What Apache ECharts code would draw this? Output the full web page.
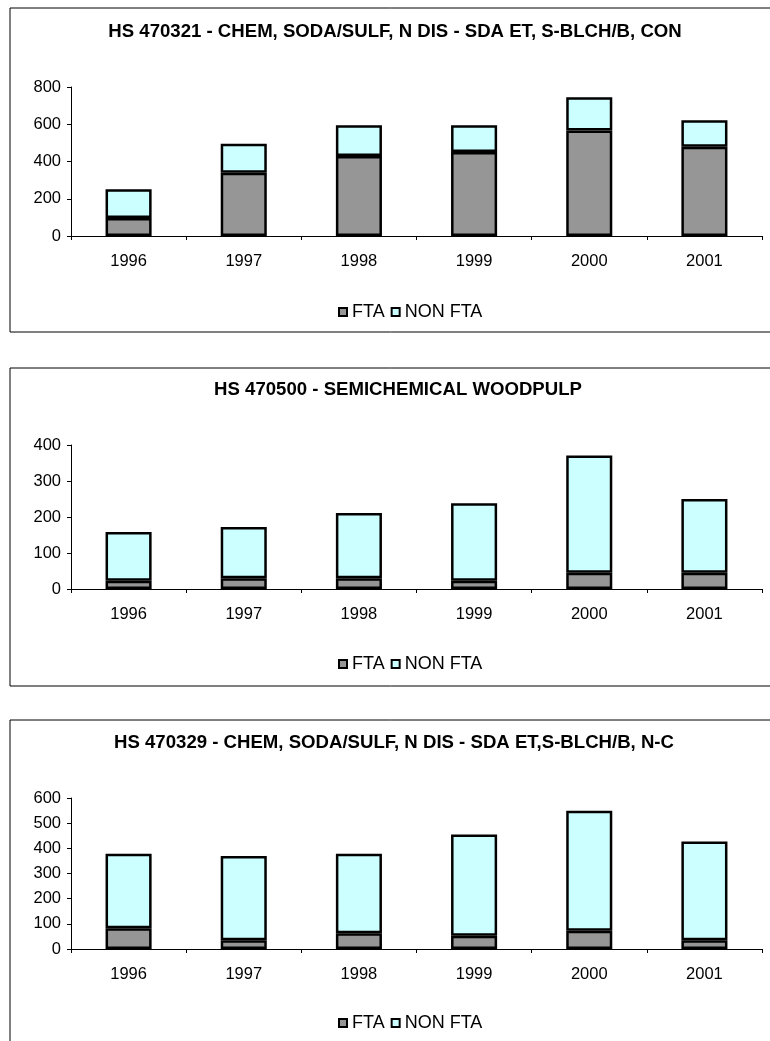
<!DOCTYPE html>
<html>
<head>
<meta charset="utf-8">
<script src="https://cdn.jsdelivr.net/npm/echarts@6/dist/echarts.min.js"></script>
<style>
html,body{margin:0;padding:0;background:#fff;}
#chart{width:770px;height:1041px;}
</style>
</head>
<body>
<div id="chart"></div>
<script>
const years = ['1996', '1997', '1998', '1999', '2000', '2001'];
const seriesNames = ['FTA', 'NON FTA'];

const titles = [
  'HS 470321 - CHEM, SODA/SULF, N DIS - SDA ET, S-BLCH/B, CON',
  'HS 470500 - SEMICHEMICAL WOODPULP',
  'HS 470329 - CHEM, SODA/SULF, N DIS - SDA ET,S-BLCH/B, N-C'
];

const fta1 = [96, 340, 430, 451, 567, 479];
const nonFta1 = [155, 155, 165, 143, 178, 143];

const fta2 = [23, 30, 30, 23, 45, 45];
const nonFta2 = [135, 142, 181, 215, 326, 205];

const fta3 = [82, 35, 63, 53, 73, 35];
const nonFta3 = [296, 335, 315, 402, 476, 392];

const yMax = [800, 400, 600];
const yStep = [200, 100, 100];

const FONT = '"Liberation Sans", Arial, sans-serif';
const panels = [
  { top: 8, height: 324, titleY: 32, gridTop: 87, gridH: 149, legendY: 313, tx: 395, fta: fta1, non: nonFta1 },
  { top: 368, height: 318, titleY: 390, gridTop: 445, gridH: 144, legendY: 665, tx: 398, fta: fta2, non: nonFta2 },
  { top: 720, height: 400, titleY: 743, gridTop: 798, gridH: 151, legendY: 1024, tx: 394, fta: fta3, non: nonFta3 }
];

const option = {
  backgroundColor: '#fff',
  animation: false,
  title: [], legend: [], grid: [], xAxis: [], yAxis: [], series: [], graphic: []
};

panels.forEach((p, i) => {
  option.graphic.push({
    type: 'rect', silent: true, z: -10,
    shape: { x: 10, y: p.top, width: 800, height: p.height },
    style: { fill: '#fff', stroke: '#000', lineWidth: 1 }
  });
  option.title.push({
    text: titles[i],
    left: p.tx, textAlign: 'center',
    top: p.titleY - 10,
    padding: 0,
    textStyle: { fontFamily: FONT, fontSize: 18.6, fontWeight: 'bold', color: '#000' }
  });
  const suffix = i ? ' '.repeat(i) : '';
  option.legend.push({
    data: [
      { name: seriesNames[0] + suffix },
      { name: seriesNames[1] + suffix }
    ],
    left: 338, top: p.legendY - 10,
    padding: 0,
    itemWidth: 8, itemHeight: 8, itemGap: 6,
    icon: 'rect',
    itemStyle: { borderColor: '#000', borderWidth: 2 },
    textStyle: { fontFamily: FONT, fontSize: 18, color: '#000' },
    formatter: n => n.trim()
  });
  option.grid.push({ left: 71, right: 8, top: p.gridTop, height: p.gridH, containLabel: false });
  option.xAxis.push({
    type: 'category', gridIndex: i, data: years,
    axisLine: { lineStyle: { color: '#000', width: 1 } },
    axisTick: { show: true, length: 4, lineStyle: { color: '#000' } },
    axisLabel: { fontFamily: FONT, fontSize: 16.5, color: '#000', margin: 17 }
  });
  option.yAxis.push({
    type: 'value', gridIndex: i, min: 0, max: yMax[i], interval: yStep[i],
    axisLine: { show: true, lineStyle: { color: '#000', width: 1 } },
    axisTick: { show: true, length: 4, lineStyle: { color: '#000' } },
    splitLine: { show: false },
    axisLabel: { fontFamily: FONT, fontSize: 16.5, color: '#000', margin: 10 }
  });
  option.series.push({
    name: seriesNames[0] + suffix, type: 'bar', stack: 's' + i,
    xAxisIndex: i, yAxisIndex: i, data: p.fta, barWidth: '40%',
    itemStyle: { color: '#969696', borderColor: '#000', borderWidth: 2.5 }
  });
  option.series.push({
    name: seriesNames[1] + suffix, type: 'bar', stack: 's' + i,
    xAxisIndex: i, yAxisIndex: i, data: p.non, barWidth: '40%',
    itemStyle: { color: '#CCFFFF', borderColor: '#000', borderWidth: 2.5 }
  });
});

const chart = echarts.init(document.getElementById('chart'), null, { renderer: 'canvas' });
chart.setOption(option);
</script>
</body>
</html>
